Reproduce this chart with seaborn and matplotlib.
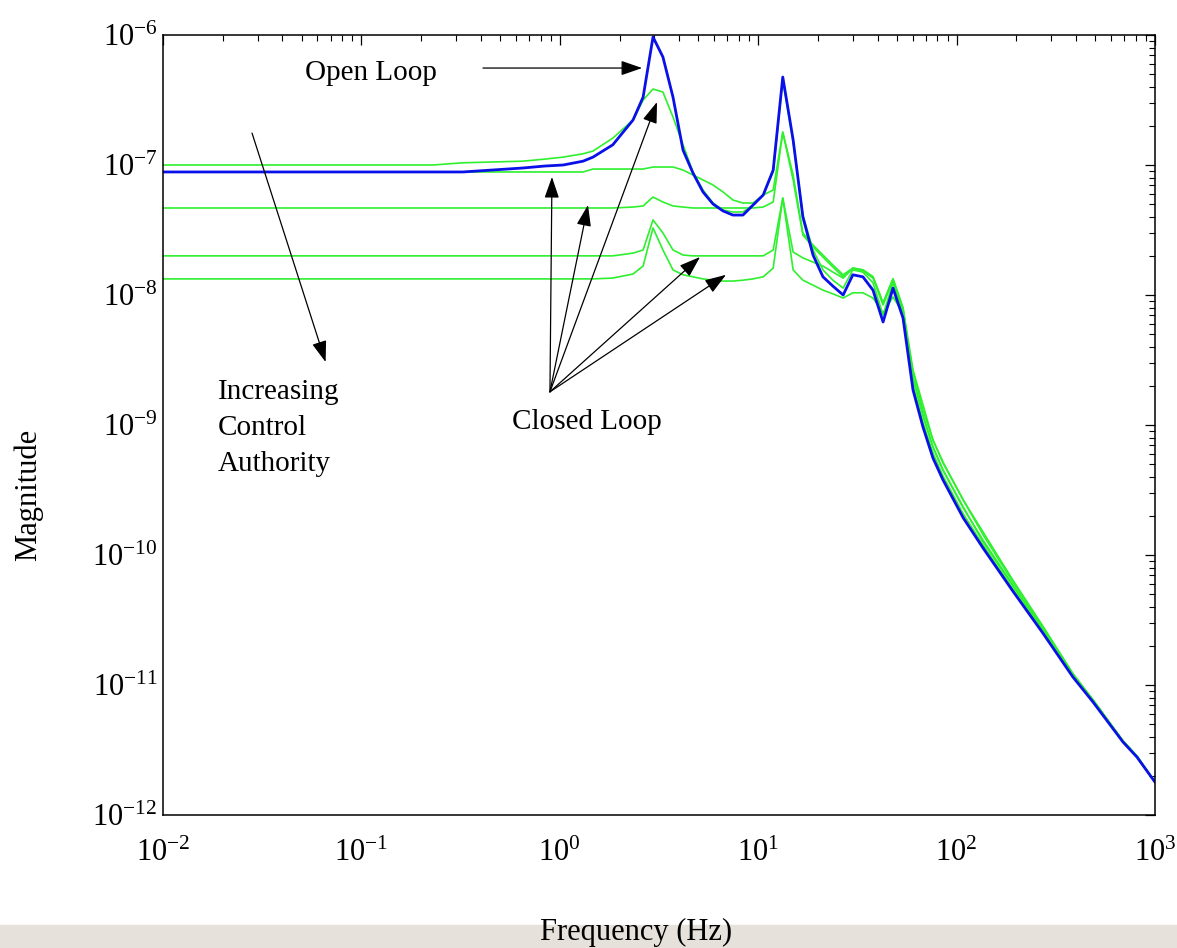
import numpy as np
import pandas as pd
import matplotlib
matplotlib.use("Agg")
import matplotlib.pyplot as plt
from matplotlib.patches import Rectangle
import seaborn as sns

# frequency grid (Hz) shared by all curves
freq = [0.01, 0.23, 0.325, 0.65, 0.84, 1.04, 1.31, 1.47, 1.85, 2.34,
        2.63, 2.95, 3.31, 3.72, 4.18, 4.69, 5.27, 5.92, 6.65, 7.46,
        8.38, 9.42, 10.6, 11.9, 13.3, 15.0, 16.8, 18.9, 21.2, 23.8,
        26.8, 30.0, 33.7, 37.9, 42.6, 47.8, 53.7, 60.3, 67.7, 76.0,
        85.4, 108, 136, 192, 272, 386, 487, 690, 811, 1000]

open_loop = [8.84e-8, 8.84e-8, 8.84e-8, 9.48e-8, 9.82e-8, 1.00e-7, 1.07e-7, 1.15e-7, 1.43e-7, 2.22e-7,
             3.33e-7, 9.65e-7, 6.77e-7, 3.33e-7, 1.30e-7, 8.68e-8, 6.20e-8, 5.01e-8, 4.43e-8, 4.12e-8,
             4.12e-8, 4.92e-8, 5.88e-8, 9.15e-8, 4.75e-7, 1.56e-7, 3.98e-8, 2.03e-8, 1.38e-8, 1.17e-8,
             1.00e-8, 1.43e-8, 1.38e-8, 1.09e-8, 6.20e-9, 1.13e-8, 6.65e-9, 1.86e-9, 9.65e-10, 5.57e-10,
             3.78e-10, 1.93e-10, 1.13e-10, 5.28e-11, 2.51e-11, 1.15e-11, 7.40e-12, 3.64e-12, 2.79e-12, 1.79e-12]

closed_1 = [1.00e-7, 1.00e-7, 1.04e-7, 1.07e-7, 1.11e-7, 1.15e-7, 1.22e-7, 1.28e-7, 1.61e-7, 2.22e-7,
            3.16e-7, 3.84e-7, 3.64e-7, 2.34e-7, 1.43e-7, 8.84e-8, 6.42e-8, 5.10e-8, 4.50e-8, 4.35e-8,
            4.35e-8, 4.92e-8, 5.88e-8, 8.84e-8, 4.50e-7, 1.50e-7, 4.12e-8, 2.22e-8, 1.56e-8, 1.30e-8,
            1.13e-8, 1.56e-8, 1.50e-8, 1.24e-8, 7.02e-9, 1.24e-8, 7.40e-9, 2.03e-9, 1.04e-9, 6.09e-10,
            4.05e-10, 2.07e-10, 1.19e-10, 5.47e-11, 2.56e-11, 1.17e-11, 7.53e-12, 3.64e-12, 2.79e-12, 1.79e-12]

closed_2 = [8.84e-8, 8.84e-8, 8.84e-8, 8.84e-8, 8.84e-8, 8.84e-8, 8.84e-8, 9.31e-8, 9.31e-8, 9.31e-8,
            9.31e-8, 9.65e-8, 9.65e-8, 9.65e-8, 9.15e-8, 8.38e-8, 7.67e-8, 7.02e-8, 6.20e-8, 5.38e-8,
            5.10e-8, 5.10e-8, 5.88e-8, 6.42e-8, 1.79e-7, 8.38e-8, 3.00e-8, 2.42e-8, 2.03e-8, 1.70e-8,
            1.43e-8, 1.61e-8, 1.56e-8, 1.38e-8, 8.68e-9, 1.33e-8, 7.94e-9, 2.30e-9, 1.19e-9, 6.77e-10,
            4.50e-10, 2.30e-10, 1.30e-10, 5.88e-11, 2.70e-11, 1.19e-11, 7.67e-12, 3.71e-12, 2.84e-12, 1.79e-12]

closed_3 = [4.67e-8, 4.67e-8, 4.67e-8, 4.67e-8, 4.67e-8, 4.67e-8, 4.67e-8, 4.67e-8, 4.67e-8, 4.75e-8,
            4.84e-8, 5.67e-8, 5.19e-8, 4.84e-8, 4.75e-8, 4.67e-8, 4.67e-8, 4.67e-8, 4.67e-8, 4.67e-8,
            4.67e-8, 4.67e-8, 4.75e-8, 5.19e-8, 1.79e-7, 7.67e-8, 2.89e-8, 2.34e-8, 1.96e-8, 1.64e-8,
            1.38e-8, 1.61e-8, 1.53e-8, 1.35e-8, 8.38e-9, 1.30e-8, 7.67e-9, 2.30e-9, 1.17e-9, 6.77e-10,
            4.50e-10, 2.34e-10, 1.26e-10, 5.77e-11, 2.65e-11, 1.19e-11, 7.67e-12, 3.71e-12, 2.84e-12, 1.79e-12]

closed_4 = [2.00e-8, 2.00e-8, 2.00e-8, 2.00e-8, 2.00e-8, 2.00e-8, 2.00e-8, 2.00e-8, 2.00e-8, 2.10e-8,
            2.22e-8, 3.78e-8, 3.00e-8, 2.22e-8, 2.03e-8, 2.00e-8, 2.00e-8, 2.00e-8, 2.00e-8, 2.00e-8,
            2.00e-8, 2.00e-8, 2.00e-8, 2.22e-8, 5.57e-8, 2.14e-8, 1.93e-8, 1.79e-8, 1.67e-8, 1.50e-8,
            1.35e-8, 1.61e-8, 1.56e-8, 1.38e-8, 8.68e-9, 1.33e-8, 7.94e-9, 2.65e-9, 1.43e-9, 7.67e-10,
            5.19e-10, 2.65e-10, 1.50e-10, 6.42e-11, 2.84e-11, 1.22e-11, 7.67e-12, 3.71e-12, 2.84e-12, 1.79e-12]

closed_5 = [1.33e-8, 1.33e-8, 1.33e-8, 1.33e-8, 1.33e-8, 1.33e-8, 1.33e-8, 1.33e-8, 1.35e-8, 1.45e-8,
            1.67e-8, 3.28e-8, 2.22e-8, 1.56e-8, 1.43e-8, 1.38e-8, 1.33e-8, 1.30e-8, 1.28e-8, 1.28e-8,
            1.30e-8, 1.33e-8, 1.38e-8, 1.61e-8, 5.57e-8, 1.56e-8, 1.30e-8, 1.19e-8, 1.09e-8, 1.02e-8,
            9.48e-9, 1.04e-8, 1.04e-8, 9.48e-9, 7.27e-9, 9.65e-9, 7.27e-9, 2.56e-9, 1.30e-9, 7.67e-10,
            5.10e-10, 2.65e-10, 1.43e-10, 6.20e-11, 2.79e-11, 1.22e-11, 7.67e-12, 3.71e-12, 2.84e-12, 1.79e-12]

closed_loops = [closed_1, closed_2, closed_3, closed_4, closed_5]

# annotation anchor points (Hz, magnitude)
closed_origin = (0.892, 1.80e-9)
closed_tips = [(0.913, 8.09e-8), (1.387, 4.92e-8), (3.09, 3.05e-7),
               (5.09, 1.96e-8), (6.88, 1.43e-8)]

sns.set_theme(style="white")
plt.rcParams["font.family"] = ["Liberation Serif", "DejaVu Serif"]
plt.rcParams["mathtext.default"] = "regular"
plt.rcParams["text.color"] = "black"
plt.rcParams["axes.labelcolor"] = "black"

fig = plt.figure(figsize=(11.77, 9.48), dpi=100)
fig.patches.append(Rectangle((0, 0), 1, 23 / 948, transform=fig.transFigure,
                             color="#e6e1da", zorder=-5))
ax = fig.add_axes([163 / 1177, 133 / 948, 992 / 1177, 780 / 948])
ax.set_zorder(1)
ax.patch.set_alpha(0)

green = "#2ef02e"
blue = "#0a10e8"
for vals in closed_loops:
    sns.lineplot(x=freq, y=vals, color=green, lw=1.2, ax=ax,
                 estimator=None, sort=False, legend=False)
sns.lineplot(x=freq, y=open_loop, color=blue, lw=2.0, ax=ax,
             estimator=None, sort=False, legend=False)

ax.set(xscale="log", yscale="log", xlim=(1e-2, 1e3), ylim=(1e-12, 1e-6))
for s in ax.spines.values():
    s.set_color("black")
    s.set_linewidth(1.1)
ax.tick_params(which="both", direction="in", top=True, right=True,
               colors="black", labelsize=22)
ax.tick_params(which="major", length=7, width=0.9)
ax.tick_params(which="minor", length=4, width=0.8)
ax.tick_params(axis="x", which="major", pad=17)
ax.tick_params(axis="y", which="major", pad=4)

ax.set_xlabel("Frequency (Hz)", fontsize=22)
ax.xaxis.set_label_coords(0.477, -0.132)
ax.xaxis.label.set_va("top")
ax.set_ylabel("Magnitude", fontsize=22)
ax.yaxis.set_label_coords(-0.136, 0.41)
ax.yaxis.label.set_va("center")

arrow = dict(arrowstyle="-|>,head_length=1.3,head_width=0.45", color="black",
             lw=0.9, shrinkA=0, shrinkB=0, mutation_scale=10)

ax.text(0.052, 5.1e-7, "Open Loop", fontsize=21, ha="left", va="center")
ax.annotate("", xy=(2.6, 5.57e-7), xytext=(0.41, 5.57e-7), arrowprops=arrow)

ax.text(0.0189, 9.5e-10, "Increasing\nControl\nAuthority", fontsize=21,
        ha="left", va="center", linespacing=1.5)
ax.annotate("", xy=(0.066, 3.05e-9), xytext=(0.0281, 1.76e-7), arrowprops=arrow)

ax.text(1.37, 1.05e-9, "Closed Loop", fontsize=21, ha="center", va="center")
for tip in closed_tips:
    ax.annotate("", xy=tip, xytext=closed_origin, arrowprops=arrow)

fig.savefig("out.png", dpi=100)
